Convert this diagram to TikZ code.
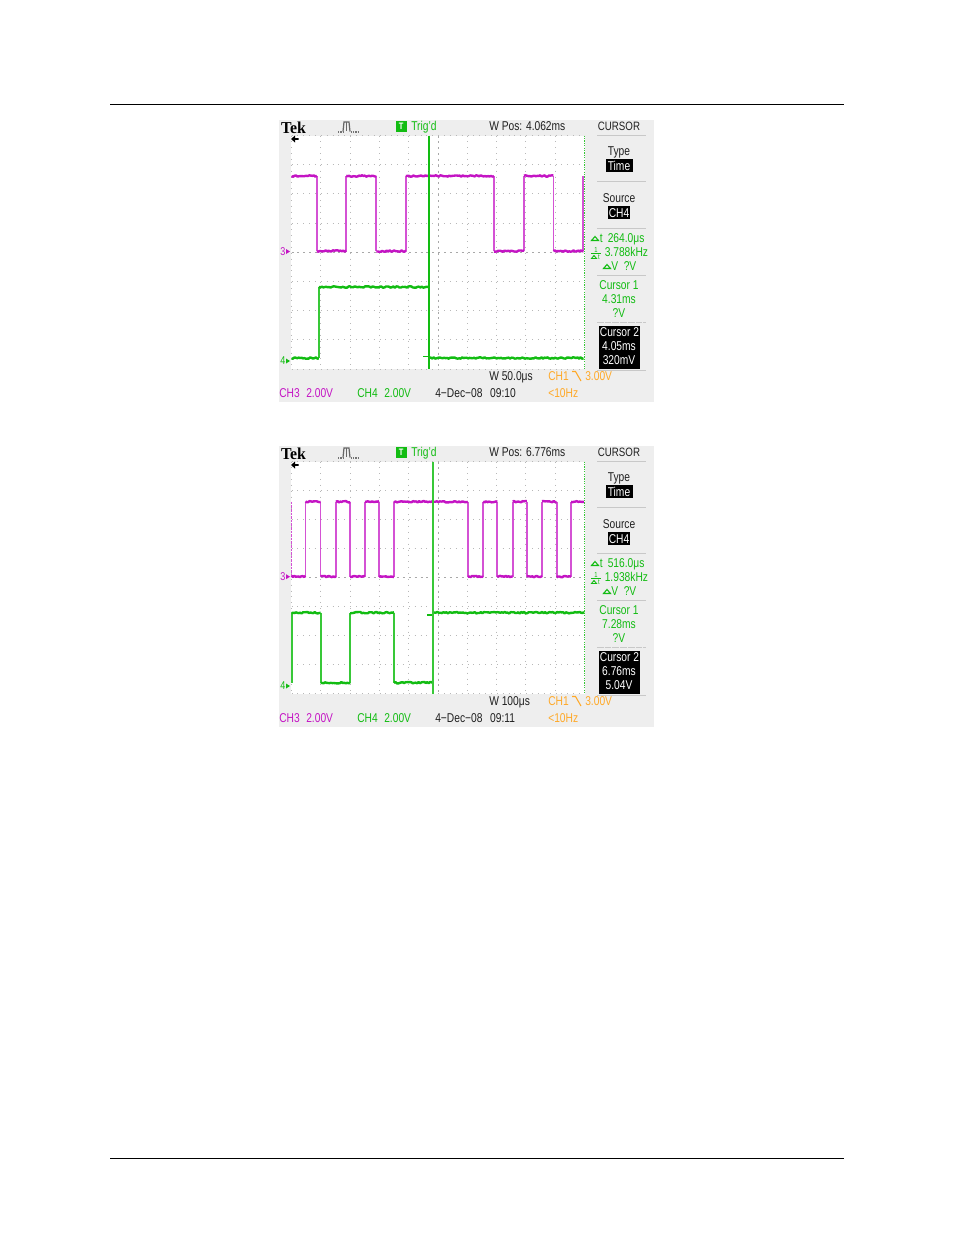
\documentclass[tikz,border=0pt]{standalone}
\usepackage{fontspec}
\setmainfont[FakeStretch=0.8]{Liberation Sans}
\newfontfamily\tekfont[FakeStretch=0.95]{Liberation Serif}
\definecolor{panel}{HTML}{EEEEEE}
\definecolor{scmag}{HTML}{C414C4}
\definecolor{scmagl}{HTML}{D452D4}
\definecolor{scgrn}{HTML}{12BC12}
\definecolor{scgrnl}{HTML}{38C838}
\definecolor{scorg}{HTML}{FFA928}
\definecolor{sctxt}{HTML}{202020}
\definecolor{scsep}{HTML}{C8C8C8}
\tikzset{
  x=0.75pt,y=-0.75pt,
  lab/.style={inner sep=0pt,font=\fontsize{9.6pt}{10pt}\selectfont,text=sctxt,text height=6.9pt,text depth=0pt},
  labl/.style={lab,anchor=west},
  grn/.style={text=scgrn},
  griddot/.style={draw=black!28,line width=0.75pt,dash pattern=on 0.75pt off 3.65pt},
  axisdot/.style={draw=black!34,line width=0.75pt,dash pattern=on 1.5pt off 2.9pt},
  sepline/.style={draw=scsep,line width=0.75pt},
  wavem/.style={draw=scmag,line width=1.8pt,line join=round},
  waveg/.style={draw=scgrn,line width=1.8pt,line join=round},
  vertm/.style={draw=scmagl,line width=1.3pt},
  vertg/.style={draw=scgrnl,line width=1.3pt},
}
% #1 style  #2 x1  #3 x2  #4 y
\newcommand{\noisyrun}[4]{%
  \pgfmathtruncatemacro\nsamp{(#3-#2)/1.5+2}%
  \draw[#1] plot[samples=\nsamp,domain=#2:#3] (\x,{#4+1.5*rnd-0.75});}
% #1 yt #2 yb #3 grid top #4 grid step #5 wpos #6 dt #7 freq #8 c1 #9 c2 t
\newcommand{\scopepanel}[9]{%
  \def\yt{#1}\def\yb{#2}\def\gt{#3}\def\gs{#4}%
  \fill[panel] (279,\yt+120) rectangle (654,\yb+402);
  \fill[white] (291,\gt) rectangle (584.5,{\gt+8*\gs});
  \foreach \k in {1,...,9}
    \draw[griddot] ({291.5+29.3*\k},\gt) -- ({291.5+29.3*\k},{\gt+8*\gs});
  \foreach \k in {0,1,2,3,5,6,7,8}
    \draw[griddot] (291.5,{\gt+\k*\gs}) -- (584,{\gt+\k*\gs});
  \draw[griddot] (291.5,\gt) -- (291.5,{\gt+8*\gs});
  \draw[axisdot] (291.5,{\gt+4*\gs}) -- (584,{\gt+4*\gs});
  \draw[axisdot] (438,\gt) -- (438,{\gt+8*\gs});
  \node[inner sep=0pt,font=\tekfont\bfseries\fontsize{12.5pt}{13pt}\selectfont,text=black] at (293.5,\yt+127.5) {Tek};
  \draw[black!60,line width=0.9pt] (343,\yt+131.5) -- (344,\yt+122) -- (349,\yt+122) -- (350,\yt+131.5);
  \draw[black!60,line width=0.8pt] (346.5,\yt+122) -- (346.5,\yt+131);
  \draw[black!55,line width=0.8pt,dash pattern=on 1pt off 0.8pt] (338,\yt+132) -- (343,\yt+132) (350.5,\yt+132) -- (359,\yt+132);
  \fill[scgrn] (396,\yt+121) rectangle (406.5,\yt+132);
  \node[inner sep=0pt,font=\bfseries\fontsize{7pt}{8pt}\selectfont,text=white] at (401.2,\yt+126.7) {T};
  \node[labl,grn] at (411,\yt+126) {Trig'd};
  \node[labl] at (489,\yt+126) {W Pos: #5};
  \node[lab,font=\fontsize{9.1pt}{10pt}\selectfont] at (619,\yt+126) {CURSOR};
  \fill[black] (291,\yt+139) -- (295,\yt+135.5) -- (295,\yt+138.2) -- (298.5,\yt+138.2) -- (298.5,\yt+139.8) -- (295,\yt+139.8) -- (295,\yt+142.5) -- cycle;
  \node[lab] at (619,\yt+150.5) {Type};
  \fill[black] (605.5,\yt+159) rectangle (632.5,\yt+172);
  \node[lab,text=white] at (619,\yt+165.5) {Time};
  \draw[sepline] (597,\yt+135) -- (646,\yt+135);
  \draw[sepline] (597,\yt+181) -- (646,\yt+181);
  \node[lab] at (619,\yt+198) {Source};
  \fill[black] (608,\yt+206) rectangle (630,\yt+219);
  \node[lab,text=white] at (619,\yt+212.5) {CH4};
  \draw[sepline] (597,\yb+228.5) -- (646,\yb+228.5);
  % cursor readouts
  \draw[scgrn,line width=0.8pt] (591.5,\yb+240.5) -- (595,\yb+236.5) -- (598.5,\yb+240.5) -- cycle;
  \node[labl,grn] at (599.5,\yb+238) {t};
  \node[labl,grn] at (607.5,\yb+238) {#6};
  \node[inner sep=0pt,font=\fontsize{5.5pt}{6pt}\selectfont,text=scgrn] at (596,\yb+250) {1};
  \draw[scgrn,line width=0.7pt] (591,\yb+253) -- (601,\yb+253);
  \draw[scgrn,line width=0.7pt] (591.5,\yb+258.5) -- (594,\yb+255.5) -- (596.5,\yb+258.5) -- cycle;
  \node[inner sep=0pt,font=\fontsize{5.5pt}{6pt}\selectfont,text=scgrn] at (599,\yb+257) {t};
  \node[labl,grn] at (604.5,\yb+252) {#7};
  \draw[scgrn,line width=0.8pt] (603.5,\yb+268.5) -- (607,\yb+264.5) -- (610.5,\yb+268.5) -- cycle;
  \node[labl,grn] at (611,\yb+266) {V\ \ ?V};
  \draw[sepline] (597,\yb+275.5) -- (646,\yb+275.5);
  \node[lab,grn] at (619,\yb+285) {Cursor 1};
  \node[lab,grn] at (619,\yb+299) {#8};
  \node[lab,grn] at (619,\yb+313) {?V};
  \draw[sepline,dash pattern=on 5pt off 0.8pt] (597,\yb+322) -- (646,\yb+322);
  \fill[black] (599,\yb+326) rectangle (640,\yb+368.5);
  \node[lab,text=white] at (619.5,\yb+332) {Cursor 2};
  \node[lab,text=white] at (619,\yb+346) {#9};
  \draw[sepline] (597,\yb+370) -- (646,\yb+370);
}
\newcommand{\scopepanelb}[5]{%
  % #1 c2 value  #2 W  #3 date  #4 wave label 3 y  #5 wave label 4 y
  \node[lab,text=white] at (619,\yb+360) {#1};
  \node[labl] at (489,\yb+376) {W #2};
  \node[labl,text=scorg] at (548,\yb+376) {CH1};
  \draw[scorg,line width=0.8pt] (572,\yb+371.5) -- (575.5,\yb+371.5) -- (581,\yb+381);
  \node[labl,text=scorg] at (585,\yb+376) {3.00V};
  \node[labl,text=scmag] at (279,\yb+393) {CH3};
  \node[labl,text=scmag] at (306,\yb+393) {2.00V};
  \node[labl,grn] at (357,\yb+393) {CH4};
  \node[labl,grn] at (384,\yb+393) {2.00V};
  \node[labl] at (435,\yb+393) {4−Dec−08\hspace{0.6em}#3};
  \node[labl,text=scorg] at (548,\yb+393) {<10Hz};
  \node[inner sep=0pt,font=\fontsize{8.5pt}{9pt}\selectfont,text=scmag] at (283,#4) {3};
  \fill[scmag] (286,#4-2.5) -- (290,#4) -- (286,#4+2.5) -- cycle;
  \node[inner sep=0pt,font=\fontsize{8.5pt}{9pt}\selectfont,text=scgrn] at (283,#5) {4};
  \fill[scgrn] (286,#5-2.5) -- (290,#5) -- (286,#5+2.5) -- cycle;
  \draw[scgrn!85!white,line width=0.9pt,dash pattern=on 1pt off 0.8pt] (584.5,\gt) -- (584.5,{\gt+8*\gs});
}
\begin{document}
\begin{tikzpicture}
\pgfmathsetseed{4217}
\useasboundingbox (0,0) rectangle (954,1235);
\fill[white] (0,0) rectangle (954,1235);
\coordinate (headl) at (110,104.5);
\coordinate (headr) at (844,104.5);
\coordinate (footl) at (110,1158.5);
\coordinate (footr) at (844,1158.5);
\draw[black,line width=0.75pt] (headl) -- (headr);
\draw[black,line width=0.75pt] (footl) -- (footr);

% ---------- first screen ----------
\scopepanel{0}{0}{135.5}{29.2}{4.062ms}{264.0μs}{3.788kHz}{4.31ms}{4.05ms}
\scopepanelb{320mV}{50.0μs}{09:10}{251.5}{361}
% magenta trace
\foreach \a/\b in {316.8/346.2,376.3/406,494/524,553.4/583}
  {\draw[vertm] (\a,176) -- (\a,251);\draw[vertm] (\b,176) -- (\b,251);}
\foreach \a/\b in {291.5/316.8,346.2/376.3,406/494,524/553.4}
  {\noisyrun{wavem}{\a}{\b}{176}}
\foreach \a/\b in {316.8/346.2,376.3/406,494/524,553.4/583.5}
  {\noisyrun{wavem}{\a}{\b}{251}}
% green trace
\draw[vertg] (318.8,287) -- (318.8,358);
\noisyrun{waveg}{291.5}{318.8}{358}
\noisyrun{waveg}{318.8}{429.2}{287}
\noisyrun{waveg}{429.2}{583.5}{358}
\draw[scgrn,line width=0.8pt] (423,356.5) -- (430,356.5);
\draw[scgrn,line width=1.5pt] (429.2,135.5) -- (429.2,369.3);

% ---------- second screen ----------
\scopepanel{326}{325}{461.5}{29.03}{6.776ms}{516.0μs}{1.938kHz}{7.28ms}{6.76ms}
\scopepanelb{5.04V}{100μs}{09:11}{576.7}{686}
% magenta trace
\draw[vertm,dash pattern=on 2pt off 0.7pt] (291.5,501.7) -- (291.5,576.5);
\foreach \a in {305.5,320.6,336,350.2,365,379,394,467.8,483.3,497.3,512.7,526.8,542,556.7,571}
  {\draw[vertm] (\a,501.7) -- (\a,576.5);}
\foreach \a/\b in {305.5/320.6,336/350.2,365/379,394/467.8,483.3/497.3,512.7/526.8,542/556.7,571/584}
  {\noisyrun{wavem}{\a}{\b}{501.7}}
\foreach \a/\b in {291.5/305.5,320.6/336,350.2/365,379/394,467.8/483.3,497.3/512.7,526.8/542,556.7/571}
  {\noisyrun{wavem}{\a}{\b}{576.5}}
% green trace
\foreach \a in {291.8,320.8,350.2,394.2}
  {\draw[vertg] (\a,612.7) -- (\a,682.7);}
\foreach \a/\b in {291.5/320.6,350.2/394,433/584}
  {\noisyrun{waveg}{\a}{\b}{612.7}}
\foreach \a/\b in {320.6/350.2,394/433}
  {\noisyrun{waveg}{\a}{\b}{682.7}}
\draw[scgrn,line width=0.8pt] (427,615) -- (434,615);
\draw[scgrnl,line width=1.5pt] (433.2,461.5) -- (433.2,693.7);
\end{tikzpicture}
\end{document}
